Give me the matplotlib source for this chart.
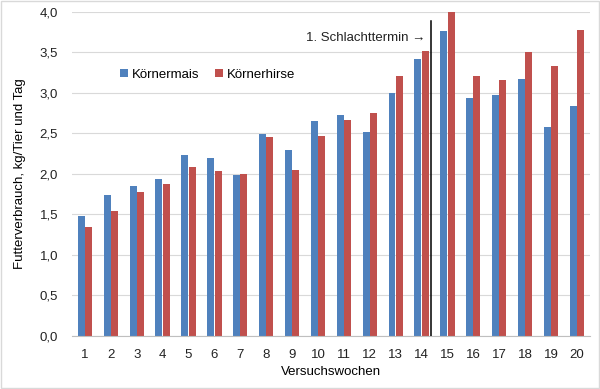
import matplotlib.pyplot as plt
import matplotlib.patches as mpatches
import numpy as np

plt.rcParams['font.family'] = ['Liberation Sans', 'DejaVu Sans']

weeks = list(range(1, 21))
koernermais = [1.48, 1.74, 1.85, 1.93, 2.23, 2.20, 1.98, 2.49, 2.29, 2.65,
               2.72, 2.52, 3.00, 3.41, 3.76, 2.93, 2.97, 3.17, 2.58, 2.84]
koernerhirse = [1.35, 1.54, 1.77, 1.88, 2.08, 2.03, 2.00, 2.45, 2.05, 2.47,
                2.66, 2.75, 3.21, 3.52, 3.99, 3.20, 3.16, 3.50, 3.33, 3.77]
yticks = [0, 0.5, 1.0, 1.5, 2.0, 2.5, 3.0, 3.5, 4.0]
ytick_labels = ["0,0", "0,5", "1,0", "1,5", "2,0", "2,5", "3,0", "3,5", "4,0"]

blue = "#4F81BD"
red = "#C0504D"

fig = plt.figure(figsize=(6, 3.89), dpi=100)
ax = fig.add_axes([0.12, 0.1362, 0.863, 0.834])

x = np.array(weeks)
w = 0.27
ax.bar(x - 0.14, koernermais, width=w, color=blue, label="Körnermais", zorder=3)
ax.bar(x + 0.14, koernerhirse, width=w, color=red, label="Körnerhirse", zorder=3)

ax.set_xlim(0.5, 20.5)
ax.set_ylim(0, 4.0)
ax.set_yticks(yticks, labels=ytick_labels)
ax.set_xticks(weeks, labels=[str(v) for v in weeks])
ax.tick_params(axis='both', length=0, labelsize=9.5, colors="#222222")
ax.tick_params(axis='y', pad=10)
ax.tick_params(axis='x', pad=9)
ax.grid(axis='y', color="#D9D9D9", linewidth=0.8, zorder=0)
for s in ['top', 'right', 'left']:
    ax.spines[s].set_visible(False)
ax.spines['bottom'].set_color("#BFBFBF")
ax.spines['bottom'].set_zorder(4)

ax.set_xlabel("Versuchswochen", fontsize=9.5, labelpad=4)
ax.set_ylabel("Futterverbrauch, kg/Tier und Tag", fontsize=9.5, labelpad=10)

# Schlachttermin marker
ax.plot([14.35, 14.35], [0, 3.886], color="black", linewidth=1.1, zorder=5)
ax.text(14.16, 3.676, "1. Schlachttermin \u2192", ha='right', va='center',
        fontsize=9.5, color="#222222")

ax.legend(loc='center left', bbox_to_anchor=(0.07, 0.805), ncol=2, frameon=False,
          fontsize=9.5, handlelength=0.6, handleheight=0.6, handletextpad=0.3,
          columnspacing=1.2)

fig.patches.append(mpatches.Rectangle((0.002, 0.002), 0.996, 0.996, transform=fig.transFigure,
                                      fill=False, edgecolor="#D9D9D9", linewidth=1))

fig.savefig("out.png", dpi=100)
